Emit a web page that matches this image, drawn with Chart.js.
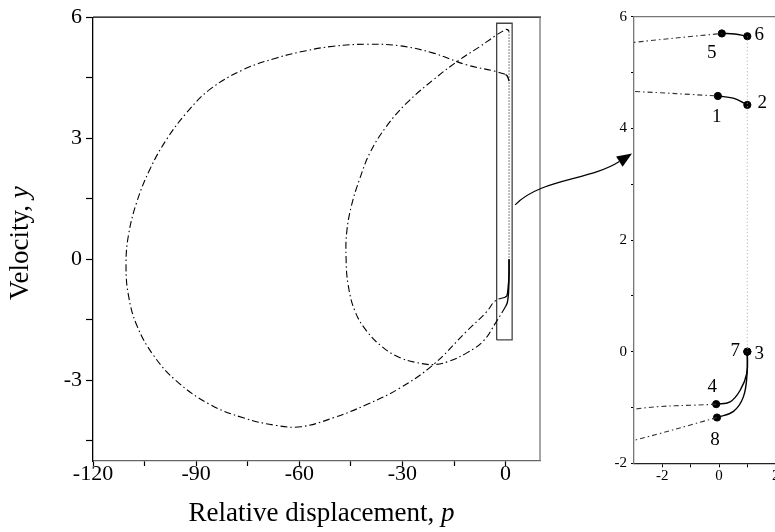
<!DOCTYPE html>
<html><head><meta charset="utf-8">
<script src="https://cdn.jsdelivr.net/npm/chart.js@4.4.1/dist/chart.umd.min.js"></script>
<style>
html,body{margin:0;padding:0;background:#fff;overflow:hidden;width:775px;height:532px;position:relative;}
#main{position:absolute;left:0;top:0;}
#inset{position:absolute;left:570px;top:0;}
#overlay{position:absolute;left:0;top:0;pointer-events:none;}
</style></head><body>
<canvas id="main" width="560" height="532"></canvas>
<canvas id="inset" width="245" height="532"></canvas>
<canvas id="overlay" width="775" height="532"></canvas>
<script>
// ---------------- data ----------------
const mainXTicks = [-120,-105,-90,-75,-60,-45,-30,-15,0];
const mainXLabels = ['-120','','-90','','-60','','-30','','0'];
const mainYTicks = [-4.5,-3,-1.5,0,1.5,3,4.5,6];
const mainYLabels = ['','-3','','0','','3','','6'];
const insetXTicks = [-2,-1,0,1,2];
const insetXLabels = ['-2','','0','','2'];
const insetYTicks = [-2,-1,0,1,2,3,4,5,6];
const insetYLabels = ['-2','','0','','2','','4','','6'];

// large slip loop: from point 4 back to point 1
const bigLoopP = [-0.1,-3,-5.5,-11.4,-21,-30.7,-40.4,-50.1,-59.5,-66.6,-76.3,-86,-95.7,-102.5,-107.3,-109.7,-110.4,-109.7,-107.3,-103.4,-98.6,-92.8,-86,-76.3,-66.6,-58,-50.1,-40.4,-30.7,-21,-11.4,-3,-0.04];
const bigLoopV = [-0.94,-1.03,-1.30,-1.79,-2.61,-3.19,-3.60,-3.93,-4.15,-4.12,-3.93,-3.60,-3.02,-2.37,-1.63,-0.89,-0.15,0.59,1.41,2.24,2.97,3.63,4.21,4.70,4.99,5.17,5.28,5.33,5.29,5.11,4.82,4.66,4.58];
// small slip loop: from point 8 back to point 5
const smallLoopP = [-0.07,-3,-6.5,-11.3,-16.2,-21,-25.9,-30.7,-35.6,-40.4,-43.8,-45.8,-46.4,-46.2,-44.8,-42.4,-39.4,-34.6,-28.8,-21,-13.3,-7.5,-3,0.1];
const smallLoopV = [-1.18,-1.59,-2.03,-2.32,-2.52,-2.61,-2.56,-2.44,-2.19,-1.78,-1.29,-0.63,0.03,0.68,1.34,2.0,2.65,3.30,3.87,4.45,4.95,5.27,5.54,5.70];
// solid segments
const seg12P = [-0.04,0.5,1.0];  const seg12V = [4.58,4.54,4.42];
const seg56P = [0.1,0.55,1.0];   const seg56V = [5.70,5.69,5.65];
const seg34P = [1.0,0.98,0.75,0.39,-0.1];  const seg34V = [0,-0.39,-0.69,-0.90,-0.94];
const seg78P = [1.0,0.99,0.86,0.51,-0.07]; const seg78V = [0,-0.4,-0.81,-1.07,-1.18];
// dotted drop 6 -> 3 (7)
const dropP = [1.0,1.0]; const dropV = [5.65,0];
// numbered points
const pointNames = ['1','2','3','4','5','6','7','8'];
const pointP = [-0.04,1.0,1.0,-0.1,0.1,1.0,1.0,-0.07];
const pointV = [4.58,4.42,0,-0.94,5.70,5.65,0,-1.18];
// zoom window drawn on main plot
const zoomBoxP = [-2.6,1.9];
const zoomBoxV = [-2,5.85];
// arrow anchors (main: right edge of zoom box; inset: y-axis)
const arrowFromV = 1.35;
const arrowToV = 3.55;

// ---------------- styling ----------------
const SERIF = "'Liberation Serif','Times New Roman',serif";
const labelOffsets = { '1':[-1,21], '2':[15,-2], '3':[12,2], '4':[-4,-17], '5':[-10,20], '6':[12,-1], '7':[-12,-1], '8':[-2,22] };

const xy = (ps, vs) => ps.map((p,i)=>({x:p, y:vs[i]}));

function curveSets(inset){
  const dd = inset ? [5,3,1.5,3] : [7,3,1.5,3];
  const base = {showLine:true, pointRadius:0, fill:false, borderColor:'#000', tension:0.4};
  return [
    {...base, data: xy(bigLoopP,bigLoopV), borderWidth:1.1, borderDash:dd, borderColor: inset?'#333':'#000'},
    {...base, data: xy(smallLoopP,smallLoopV), borderWidth:1.1, borderDash:dd, borderColor: inset?'#333':'#000'},
    {...base, data: xy(seg12P,seg12V), borderWidth:1.4},
    {...base, data: xy(seg56P,seg56V), borderWidth:1.4},
    {...base, data: xy(seg34P,seg34V), borderWidth:1.4},
    {...base, data: xy(seg78P,seg78V), borderWidth:1.4},
    {...base, tension:0, data: xy(dropP,dropV), borderWidth:1, borderColor: inset?'#aaa':'#555', borderDash: inset?[1,2.5]:[1.5,1.5]},
  ];
}

const framePlugin = {
  id:'frame',
  afterDraw(chart, args, opts){
    const {ctx, chartArea:a} = chart;
    ctx.save();
    ctx.lineWidth = 1.3;
    ctx.strokeStyle = opts.top || '#000';
    ctx.beginPath(); ctx.moveTo(a.left, a.top); ctx.lineTo(a.right+1, a.top); ctx.stroke();
    if (opts.right){
      ctx.strokeStyle = opts.right;
      ctx.beginPath(); ctx.moveTo(a.right, a.top); ctx.lineTo(a.right, a.bottom); ctx.stroke();
    }
    ctx.restore();
  }
};

const titlePlugin = {
  id:'titles',
  afterDraw(chart, args, opts){
    if (!opts.enabled) return;
    const {ctx, chartArea:a} = chart;
    ctx.save();
    ctx.fillStyle = '#000';
    ctx.textBaseline = 'alphabetic';
    function mixed(parts, cx, cy, rot){
      ctx.save();
      ctx.translate(cx, cy); ctx.rotate(rot);
      let w = 0;
      parts.forEach(([t,it])=>{ ctx.font = (it?'italic ':'') + '27px ' + SERIF; w += ctx.measureText(t).width; });
      let x = -w/2;
      parts.forEach(([t,it])=>{ ctx.font = (it?'italic ':'') + '27px ' + SERIF; ctx.fillText(t, x, 0); x += ctx.measureText(t).width; });
      ctx.restore();
    }
    mixed([['Relative displacement, ',false],['p',true]], (a.left+a.right)/2 + 5, 521, 0);
    mixed([['Velocity, ',false],['y',true]], 28, (a.top+a.bottom)/2 + 4, -Math.PI/2);
    ctx.restore();
  }
};

const pointLabelPlugin = {
  id:'pointLabels',
  afterDatasetsDraw(chart, args, opts){
    if (!opts.enabled) return;
    const {ctx, scales:{x,y}} = chart;
    ctx.save();
    ctx.font = '19px ' + SERIF;
    ctx.fillStyle = '#000';
    ctx.textAlign = 'center';
    ctx.textBaseline = 'middle';
    pointNames.forEach((n,i)=>{
      const o = labelOffsets[n];
      ctx.fillText(n, x.getPixelForValue(pointP[i]) + o[0], y.getPixelForValue(pointV[i]) + o[1]);
    });
    ctx.restore();
  }
};

function fixedTicks(vals){ return axis => { axis.ticks = vals.map(v=>({value:v})); }; }

// ---------------- main chart ----------------
const mainDatasets = curveSets(false);
mainDatasets.push({showLine:true, pointRadius:0, tension:0, borderColor:'#444', borderWidth:1.3,
  data: xy([zoomBoxP[0],zoomBoxP[1],zoomBoxP[1],zoomBoxP[0],zoomBoxP[0]],[zoomBoxV[0],zoomBoxV[0],zoomBoxV[1],zoomBoxV[1],zoomBoxV[0]])});

const mainChart = new Chart(document.getElementById('main'), {
  type:'line',
  data:{datasets: mainDatasets},
  options:{
    responsive:false, animation:false, events:[],
    layout:{padding:{top:14,right:20,left:0,bottom:0}},
    plugins:{legend:{display:false}, tooltip:{enabled:false},
      frame:{top:'#000', right:'#777'}, titles:{enabled:true}, pointLabels:{enabled:false}},
    scales:{
      x:{type:'linear', min:-120, max:10,
        afterBuildTicks: fixedTicks(mainXTicks),
        afterFit: s => { s.height = 71; },
        border:{display:true, color:'#666', width:1.3},
        grid:{drawOnChartArea:false, drawTicks:true, tickLength:5, tickColor:'#000', tickWidth:1.2},
        ticks:{autoSkip:false, maxRotation:0, padding:-5, color:'#000', font:{family:SERIF, size:22},
          callback:(v)=>{ const i = mainXTicks.indexOf(v); return i<0?'':mainXLabels[i]; }}},
      y:{type:'linear', min:-5, max:6,
        afterBuildTicks: fixedTicks(mainYTicks),
        afterFit: s => { s.width = 93; },
        border:{display:true, color:'#000', width:1.3},
        grid:{drawOnChartArea:false, drawTicks:true, tickLength:7, tickColor:'#000', tickWidth:1.2},
        ticks:{autoSkip:false, padding:4, color:'#000', font:{family:SERIF, size:22},
          callback:(v)=>{ const i = mainYTicks.indexOf(v); return i<0?'':mainYLabels[i]; }}}
    }
  },
  plugins:[framePlugin, titlePlugin, pointLabelPlugin]
});

// ---------------- inset chart ----------------
const insetDatasets = curveSets(true);
insetDatasets.push({showLine:false, pointRadius:3.6, pointBackgroundColor:'#000', pointBorderColor:'#000', data: xy(pointP, pointV)});

const insetChart = new Chart(document.getElementById('inset'), {
  type:'line',
  data:{datasets: insetDatasets},
  options:{
    responsive:false, animation:false, events:[],
    layout:{padding:{top:16.7,right:11,left:0,bottom:0}},
    plugins:{legend:{display:false}, tooltip:{enabled:false},
      frame:{top:'#777'}, titles:{enabled:false}, pointLabels:{enabled:true}},
    scales:{
      x:{type:'linear', min:-3, max:3,
        afterBuildTicks: fixedTicks(insetXTicks),
        afterFit: s => { s.height = 68.7; },
        border:{display:true, color:'#222', width:1.3},
        grid:{drawOnChartArea:false, drawTicks:true, tickLength:4, tickColor:'#000'},
        ticks:{autoSkip:false, maxRotation:0, padding:0, color:'#000', font:{family:SERIF, size:15},
          callback:(v)=>{ const i = insetXTicks.indexOf(v); return i<0?'':insetXLabels[i]; }}},
      y:{type:'linear', min:-2, max:6,
        afterBuildTicks: fixedTicks(insetYTicks),
        afterFit: s => { s.width = 64; },
        border:{display:true, color:'#777', width:1.3},
        grid:{drawOnChartArea:false, drawTicks:true, tickLength:3, tickColor:'#000'},
        ticks:{autoSkip:false, padding:4, color:'#000', font:{family:SERIF, size:15},
          callback:(v)=>{ const i = insetYTicks.indexOf(v); return i<0?'':insetYLabels[i]; }}}
    }
  },
  plugins:[framePlugin, pointLabelPlugin]
});

// ---------------- connecting arrow (overlay) ----------------
(function(){
  const ctx = document.getElementById('overlay').getContext('2d');
  const insetLeft = 570;
  const sx = mainChart.scales.x.getPixelForValue(zoomBoxP[1]) + 3;
  const sy = mainChart.scales.y.getPixelForValue(arrowFromV);
  const ex = insetLeft + insetChart.scales.x.getPixelForValue(-3) - 2;
  const ey = insetChart.scales.y.getPixelForValue(arrowToV);
  const c1x = sx + 25, c1y = sy - 26, c2x = ex - 42, c2y = ey + 27;
  const ang = Math.atan2(ey - c2y, ex - c2x);
  const L = 15, W = 6;
  const bx = ex - L*Math.cos(ang), by = ey - L*Math.sin(ang);
  ctx.strokeStyle = '#000'; ctx.lineWidth = 1.2;
  ctx.beginPath(); ctx.moveTo(sx, sy); ctx.bezierCurveTo(c1x, c1y, c2x, c2y, bx, by); ctx.stroke();
  ctx.fillStyle = '#000';
  ctx.beginPath();
  ctx.moveTo(ex, ey);
  ctx.lineTo(bx + W*Math.sin(ang), by - W*Math.cos(ang));
  ctx.lineTo(bx - W*Math.sin(ang), by + W*Math.cos(ang));
  ctx.closePath(); ctx.fill();
})();
</script>
</body></html>
